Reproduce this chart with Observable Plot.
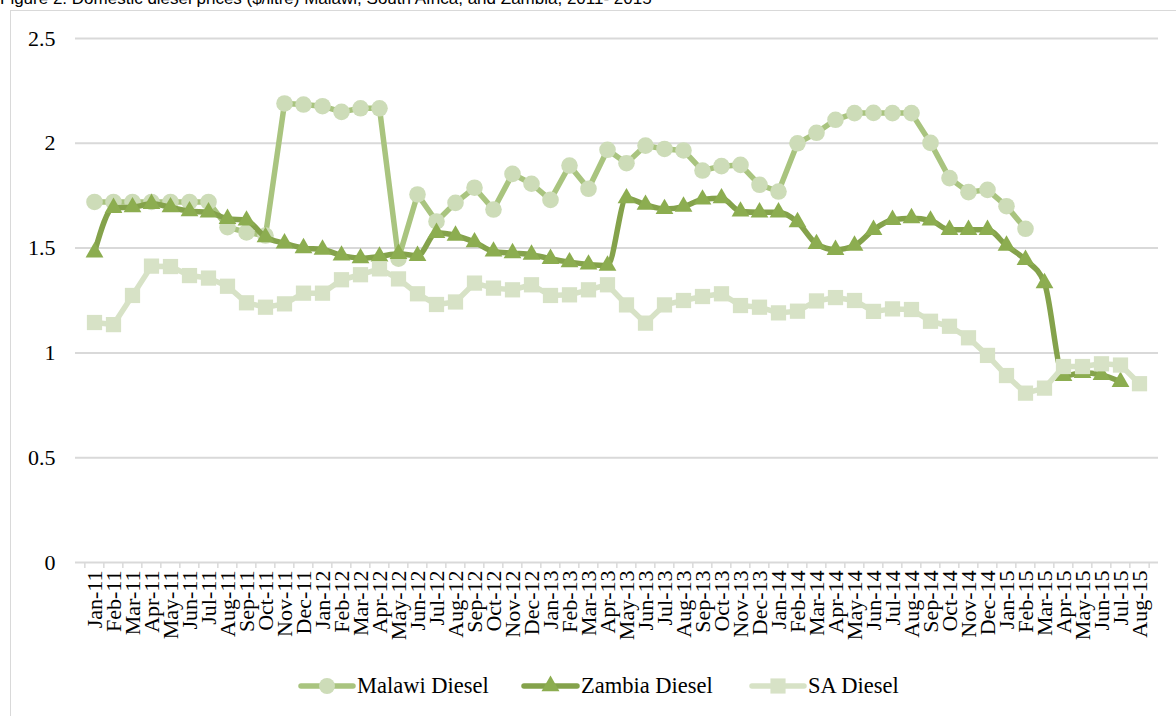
<!DOCTYPE html>
<html>
<head>
<meta charset="utf-8">
<script src="https://cdn.jsdelivr.net/npm/d3@7"></script>
<script src="https://cdn.jsdelivr.net/npm/@observablehq/plot@0.6"></script>
<style>
  html, body { margin: 0; padding: 0; background: #fff; width: 1176px; height: 716px; overflow: hidden; position: relative; }
  #title { position: absolute; left: 0; top: -10px; font-family: "Liberation Sans", Arial, sans-serif; font-size: 17px; color: #000; white-space: nowrap; line-height: 17px; }
  #frame { position: absolute; left: 10px; top: 10px; width: 1200px; height: 740px; border: 1px solid #d9d9d9; box-sizing: border-box; }
  #chart { position: absolute; left: 0; top: 0; }
  #chart svg, #chart svg text { font-family: "Liberation Serif", serif !important; }
  #legend { position: absolute; top: 671px; left: 0; width: 1176px; height: 30px; }
  .lt { position: absolute; top: 0; line-height: 30px; font-family: "Liberation Serif", serif; font-size: 22.5px; color: #000; white-space: nowrap; }
  .ls { position: absolute; top: 1px; }
</style>
</head>
<body>
<div id="title">Figure 2: Domestic diesel prices ($/litre) Malawi, South Africa, and Zambia, 2011- 2015</div>
<div id="frame"></div>
<div id="chart"></div>
<div id="legend"></div>
<script>
const months = ["Jan-11","Feb-11","Mar-11","Apr-11","May-11","Jun-11","Jul-11","Aug-11","Sep-11","Oct-11","Nov-11","Dec-11",
  "Jan-12","Feb-12","Mar-12","Apr-12","May-12","Jun-12","Jul-12","Aug-12","Sep-12","Oct-12","Nov-12","Dec-12",
  "Jan-13","Feb-13","Mar-13","Apr-13","May-13","Jun-13","Jul-13","Aug-13","Sep-13","Oct-13","Nov-13","Dec-13",
  "Jan-14","Feb-14","Mar-14","Apr-14","May-14","Jun-14","Jul-14","Aug-14","Sep-14","Oct-14","Nov-14","Dec-14",
  "Jan-15","Feb-15","Mar-15","Apr-15","May-15","Jun-15","Jul-15","Aug-15"];

const malawi = [1.72,1.72,1.72,1.72,1.72,1.72,1.72,1.60,1.575,1.56,2.19,2.185,
  2.177,2.15,2.167,2.167,1.45,1.756,1.627,1.716,1.788,1.684,1.854,1.807,
  1.73,1.894,1.783,1.969,1.905,1.989,1.973,1.966,1.87,1.891,1.897,1.802,
  1.77,2.00,2.05,2.112,2.144,2.145,2.144,2.144,2.002,1.834,1.767,1.778,
  1.70,1.592];

const zambia = [1.48,1.692,1.695,1.711,1.695,1.676,1.671,1.64,1.632,1.552,1.523,1.50,
  1.493,1.465,1.452,1.46,1.473,1.463,1.573,1.56,1.528,1.484,1.476,1.469,
  1.449,1.433,1.422,1.417,1.738,1.707,1.687,1.698,1.732,1.738,1.675,1.671,
  1.671,1.624,1.52,1.492,1.512,1.587,1.635,1.643,1.632,1.587,1.587,1.587,
  1.512,1.444,1.333,0.89,0.905,0.895,0.862];

const sa = [1.145,1.135,1.274,1.414,1.412,1.369,1.357,1.318,1.239,1.218,1.234,1.285,
  1.285,1.349,1.373,1.401,1.353,1.282,1.231,1.243,1.333,1.309,1.301,1.325,
  1.274,1.277,1.301,1.325,1.229,1.142,1.229,1.25,1.269,1.282,1.226,1.218,
  1.191,1.199,1.248,1.264,1.25,1.198,1.21,1.207,1.151,1.127,1.072,0.988,
  0.892,0.808,0.832,0.935,0.935,0.948,0.942,0.853];

const yTicks = [0, 0.5, 1, 1.5, 2, 2.5];
const seriesNames = ["Malawi Diesel", "Zambia Diesel", "SA Diesel"];

const colors = {
  malawiLine: "#a9c47f", malawiDot: "#cddcb8",
  zambiaLine: "#84a24b", zambiaDot: "#8cad50",
  saLine: "#d7e2c6", saDot: "#d7e2c6"
};

const serifStack = "'Liberation Serif', serif";

const toRows = arr => arr.map((v, i) => ({month: months[i], value: v}));
const mRows = toRows(malawi), zRows = toRows(zambia), sRows = toRows(sa);

const W = 1176, H = 650;
const mL = 75, mR = 18, mT = 38, mB = 88;
const bw = (W - mL - mR) / months.length;

const chart = Plot.plot({
  width: W, height: H,
  marginLeft: mL, marginRight: mR, marginTop: mT, marginBottom: mB,
  style: {fontFamily: serifStack, fontSize: "22px", color: "#000", background: "transparent"},
  x: {type: "point", domain: months, padding: 0.5},
  y: {domain: [0, 2.5]},
  marks: [
    Plot.ruleY(yTicks, {stroke: "#d9d9d9", strokeWidth: 2}),
    Plot.ruleX(months, {x: d => d, dx: -bw / 2, y1: 0, y2: 0, insetBottom: -6, stroke: "#d9d9d9", strokeWidth: 1.5}),
    Plot.ruleX([months[months.length - 1]], {x: d => d, dx: bw / 2, y1: 0, y2: 0, insetBottom: -6, stroke: "#d9d9d9", strokeWidth: 1.5}),
    Plot.axisY({ticks: yTicks, tickSize: 0, tickPadding: 20, fontSize: 22, fontFamily: serifStack, label: null, tickFormat: d => String(d)}),
    Plot.axisX({tickSize: 0, tickPadding: 8, tickRotate: -90, fontSize: 22, fontFamily: serifStack, label: null}),
    Plot.line(mRows, {x: "month", y: "value", stroke: colors.malawiLine, strokeWidth: 5.5}),
    Plot.dot(mRows, {x: "month", y: "value", r: 8.3, fill: colors.malawiDot, symbol: "circle"}),
    Plot.line(zRows, {x: "month", y: "value", stroke: colors.zambiaLine, strokeWidth: 5.5, curve: "monotone-x"}),
    Plot.dot(zRows, {x: "month", y: "value", r: 6.6, fill: colors.zambiaDot, symbol: "triangle"}),
    Plot.line(sRows, {x: "month", y: "value", stroke: colors.saLine, strokeWidth: 5.5}),
    Plot.dot(sRows, {x: "month", y: "value", r: 8.6, fill: colors.saDot, symbol: "square"})
  ]
});
document.getElementById("chart").appendChild(chart);

// Legend
const legend = document.getElementById("legend");
const legendItems = [
  {name: seriesNames[0], line: colors.malawiLine, dot: colors.malawiDot, sym: d3.symbolCircle, size: 200, left: 298, textLeft: 357},
  {name: seriesNames[1], line: colors.zambiaLine, dot: colors.zambiaDot, sym: d3.symbolTriangle, size: 140, left: 521, textLeft: 581},
  {name: seriesNames[2], line: colors.saLine, dot: colors.saDot, sym: d3.symbolSquare, size: 230, left: 749, textLeft: 808}
];
for (const it of legendItems) {
  const w = it.textLeft - it.left - 1;
  const svg = d3.create("svg").attr("class", "ls").attr("width", w).attr("height", 28)
    .style("left", it.left + "px");
  svg.append("line").attr("x1", 3).attr("x2", w - 3).attr("y1", 14).attr("y2", 14)
    .attr("stroke", it.line).attr("stroke-width", 5.5).attr("stroke-linecap", "round");
  svg.append("path").attr("d", d3.symbol(it.sym, it.size)()).attr("transform", `translate(${w / 2},14)`).attr("fill", it.dot);
  legend.appendChild(svg.node());
  const span = document.createElement("div");
  span.className = "lt";
  span.style.left = it.textLeft + "px";
  span.textContent = it.name;
  legend.appendChild(span);
}
</script>
</body>
</html>
